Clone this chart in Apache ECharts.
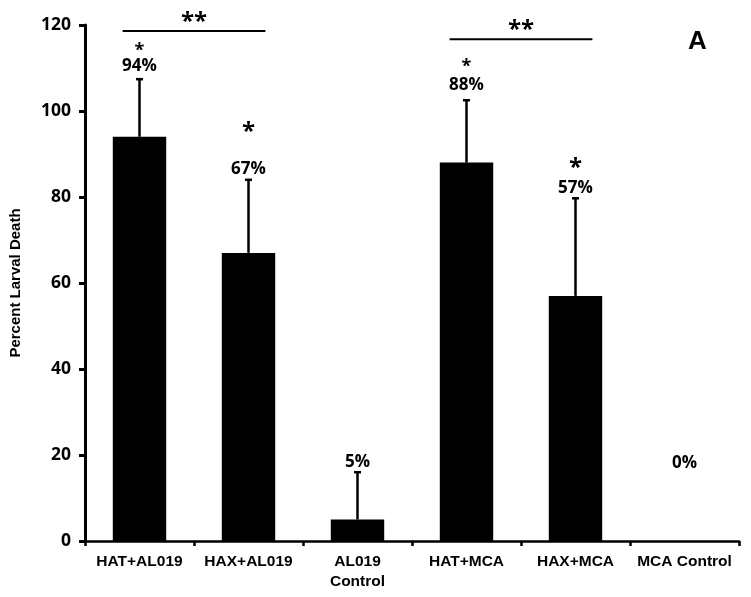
<!DOCTYPE html>
<html>
<head>
<meta charset="utf-8">
<script src="https://cdn.jsdelivr.net/npm/echarts@6/dist/echarts.min.js"></script>
<style>html,body{margin:0;padding:0;background:#fff}#c{width:751px;height:597px}</style>
</head>
<body>
<div id="c"></div>
<script>
const categories = ['HAT+AL019', 'HAX+AL019', 'AL019\nControl', 'HAT+MCA', 'HAX+MCA', 'MCA Control'];
const percentValues = [94, 67, 5, 88, 57, 0];
const errorValues = [13.4, 17, 11, 14.5, 22.7, 0];
const valueLabels = ['94%', '67%', '5%', '88%', '57%', '0%'];
const starMarks = ['*', '*', '', '*', '*', ''];
const sigFrom = [0, 3];
const sigTo = [1, 4];
const sigLevel = [118.6, 116.7];
const sigText = ['**', '**'];
const yMin = 0, yMax = 120, yStep = 20;

// layout / style (pixels), not data
const labelGap = [14, 12, 11, 16, 11, 79];
const starGap = [18, 40, 0, 21, 24, 0];
const starSize = [18, 24, 0, 18, 24, 0];

const chart = echarts.init(document.getElementById('c'));
const errData = percentValues.map((v, i) => [i, v, errorValues[i]]);
const sigData = sigFrom.map((f, i) => [f, sigTo[i], sigLevel[i]]);

chart.setOption({
  animation: false,
  grid: { left: 81, right: 12, top: 25, bottom: 56, containLabel: false },
  xAxis: {
    type: 'category',
    data: categories,
    axisLine: { lineStyle: { color: '#000', width: 2.5 } },
    axisTick: { show: true, length: 5, lineStyle: { color: '#000', width: 2.5 }, alignWithLabel: false },
    axisLabel: { color: '#000', fontWeight: 'bold', fontSize: 15.5, fontFamily: 'Liberation Sans', margin: 11, lineHeight: 20, interval: 0 }
  },
  yAxis: {
    type: 'value', min: yMin, max: yMax, interval: yStep,
    name: 'Percent Larval Death', nameLocation: 'middle', nameGap: 62,
    nameTextStyle: { color: '#000', fontWeight: 'bold', fontSize: 15, fontFamily: 'Liberation Sans' },
    axisLine: { show: true, lineStyle: { color: '#000', width: 3 } },
    axisTick: { show: true, length: 6, lineStyle: { color: '#000', width: 3 } },
    splitLine: { show: false },
    axisLabel: { color: '#000', fontWeight: 'bold', fontSize: 17.5, fontFamily: 'Open Sans', margin: 14 }
  },
  series: [
    {
      type: 'bar', data: percentValues, barWidth: '49%',
      itemStyle: { color: '#000' }, z: 2
    },
    {
      type: 'custom', data: errData, z: 3,
      renderItem: function (params, api) {
        const i = api.value(0), v = api.value(1), e = api.value(2);
        const base = api.coord([i, v]);
        const top = api.coord([i, v + e]);
        const children = [];
        if (e > 0) {
          children.push({ type: 'line', shape: { x1: base[0], y1: base[1], x2: top[0], y2: top[1] }, style: { stroke: '#000', lineWidth: 2.5 } });
          children.push({ type: 'line', shape: { x1: top[0] - 3.5, y1: top[1], x2: top[0] + 3.5, y2: top[1] }, style: { stroke: '#000', lineWidth: 2.5 } });
        }
        const ly = top[1] - labelGap[i];
        children.push({ type: 'text', x: top[0], y: ly + 1, style: { text: valueLabels[i], fill: '#000', font: 'bold 17px "Open Sans"', align: 'center', verticalAlign: 'middle' } });
        if (starMarks[i]) {
          children.push({ type: 'text', x: top[0], y: ly - starGap[i] + starSize[i] * 0.2, style: { text: starMarks[i], fill: '#000', font: 'bold ' + starSize[i] + 'px "Open Sans"', align: 'center', verticalAlign: 'middle' } });
        }
        return { type: 'group', children: children };
      }
    },
    {
      type: 'custom', data: sigData, z: 3,
      renderItem: function (params, api) {
        const a = api.coord([api.value(0), api.value(2)]);
        const b = api.coord([api.value(1), api.value(2)]);
        const bw = api.size([1, 0])[0];
        const x1 = a[0] - bw * 0.155, x2 = b[0] + bw * 0.155;
        return { type: 'group', children: [
          { type: 'line', shape: { x1: x1, y1: a[1], x2: x2, y2: a[1] }, style: { stroke: '#000', lineWidth: 2 } },
          { type: 'text', x: (x1 + x2) / 2, y: a[1] - 13 + 4, style: { text: sigText[params.dataIndex], fill: '#000', font: 'bold 24px "Open Sans"', align: 'center', verticalAlign: 'middle' } }
        ] };
      }
    }
  ],
  graphic: [
    { type: 'text', left: 688, top: 29, style: { text: 'A', fill: '#000', font: 'bold 26px "Liberation Sans"' } }
  ]
});
</script>
</body>
</html>
